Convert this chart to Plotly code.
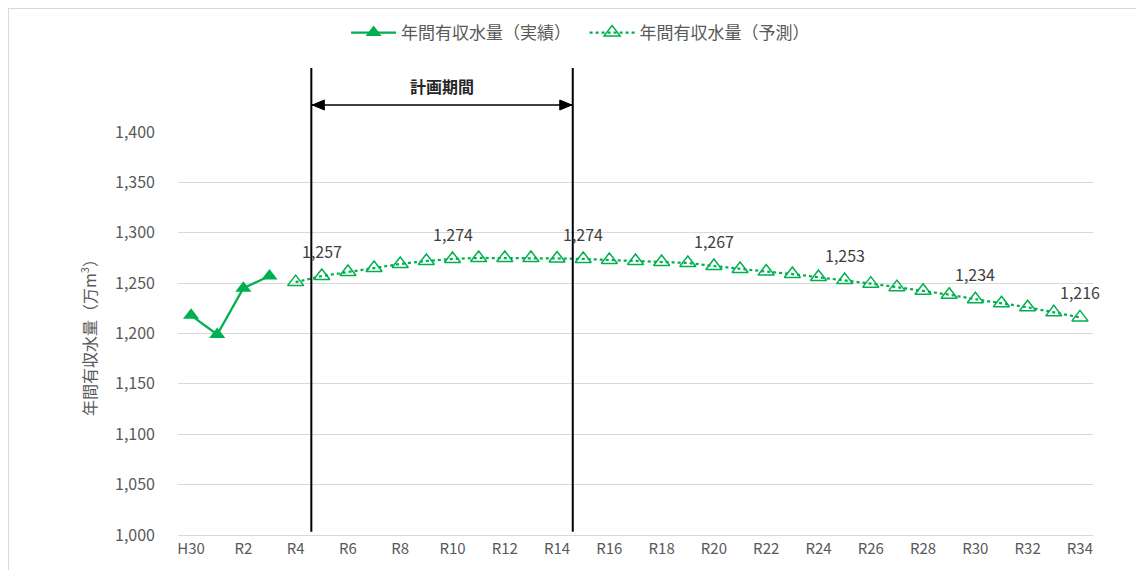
import plotly.graph_objects as go

categories = ["H30"] + [f"R{i}" for i in range(1, 35)]

actual_cats = ["H30", "R1", "R2", "R3"]
actual_vals = [1218, 1199, 1245, 1257]

forecast_cats = [f"R{i}" for i in range(4, 35)]
forecast_vals = [1251, 1257, 1261, 1265, 1269, 1272, 1274, 1275, 1275, 1275,
                 1274.5, 1274, 1273, 1272, 1271, 1270, 1267, 1264, 1261.5, 1259,
                 1256, 1253, 1249.5, 1246, 1242.5, 1238.5, 1234, 1230, 1226, 1221, 1216]

label_cats = ["R5", "R10", "R15", "R20", "R25", "R30", "R34"]
label_texts = ["1,257", "1,274", "1,274", "1,267", "1,253", "1,234", "1,216"]

tick_labels = categories[::2]

period_start = 4.6
period_end = 14.6

GREEN = "#00B050"
FONT = "Noto Sans CJK JP"

fig = go.Figure()
fig.add_trace(go.Scatter(
    x=actual_cats, y=actual_vals, name="年間有収水量（実績）　",
    mode="lines+markers",
    line=dict(color=GREEN, width=2.25),
    marker=dict(symbol="triangle-up", size=14, color=GREEN),
))
fig.add_trace(go.Scatter(
    x=forecast_cats, y=forecast_vals, name="年間有収水量（予測）",
    mode="lines+markers",
    line=dict(color=GREEN, width=2.25, dash="dot"),
    marker=dict(symbol="triangle-up-open", size=14, color=GREEN, line=dict(width=1.5)),
))

fc = dict(zip(forecast_cats, forecast_vals))
for c, t in zip(label_cats, label_texts):
    fig.add_annotation(x=c, y=fc[c], text=t, showarrow=False, yshift=25,
                       font=dict(family=FONT, size=16, color="#404040"))

# period lines
for xv in (period_start, period_end):
    fig.add_shape(type="line", xref="x", yref="paper", x0=xv, x1=xv,
                  y0=0.008, y1=1.159, line=dict(color="black", width=2))

# double-headed arrow between period lines
ARROW_Y = 1.067
fig.add_shape(type="line", xref="x", yref="paper", x0=period_start, x1=period_end,
              y0=ARROW_Y, y1=ARROW_Y, line=dict(color="black", width=1.5))
fig.add_shape(type="path", xref="x", yref="paper", xsizemode="pixel", ysizemode="pixel",
              xanchor=period_end, yanchor=ARROW_Y, path="M-1,0 L-13,5 L-13,-5 Z",
              fillcolor="black", line=dict(color="black", width=1))
fig.add_shape(type="path", xref="x", yref="paper", xsizemode="pixel", ysizemode="pixel",
              xanchor=period_start, yanchor=ARROW_Y, path="M1,0 L13,5 L13,-5 Z",
              fillcolor="black", line=dict(color="black", width=1))
fig.add_annotation(xref="x", yref="paper", x=(period_start + period_end) / 2, y=1.114,
                   xanchor="center", yanchor="middle",
                   text="<b>計画期間</b>", showarrow=False,
                   font=dict(family=FONT, size=16, color="#262626"))

# outer border
fig.add_shape(type="rect", xref="paper", yref="paper", x0=-0.1858, x1=1.2,
              y0=-0.3, y1=1.3077, line=dict(color="#d9d9d9", width=2),
              fillcolor="rgba(0,0,0,0)", layer="below")

fig.update_layout(
    width=1144, height=570,
    margin=dict(l=170, r=59, t=124, b=43, autoexpand=False),
    paper_bgcolor="white", plot_bgcolor="white",
    font=dict(family=FONT, size=15, color="#595959"),
    showlegend=True,
    legend=dict(orientation="h", x=0.44, xanchor="center", y=1.2457, yanchor="middle",
                font=dict(family=FONT, size=17, color="#595959"),
                itemwidth=45, bgcolor="rgba(0,0,0,0)"),
    xaxis=dict(type="category", categoryorder="array", categoryarray=categories,
               range=[-0.5, 34.5], tickmode="array", tickvals=tick_labels,
               ticktext=tick_labels, showgrid=False, showline=True,
               linecolor="#d9d9d9", linewidth=1, ticks="",
               tickfont=dict(family=FONT, size=15, color="#595959")),
    yaxis=dict(range=[1000, 1400], dtick=50, tickformat=",", showgrid=True,
               gridcolor="#d9d9d9", gridwidth=1, zeroline=False, ticks="",
               ticklabelstandoff=22,
               tickfont=dict(family=FONT, size=16, color="#595959"),
               title=dict(text="年間有収水量（万m<sup>3</sup>）", standoff=14,
                          font=dict(family=FONT, size=16, color="#595959"))),
)

fig.write_html("out.html")
